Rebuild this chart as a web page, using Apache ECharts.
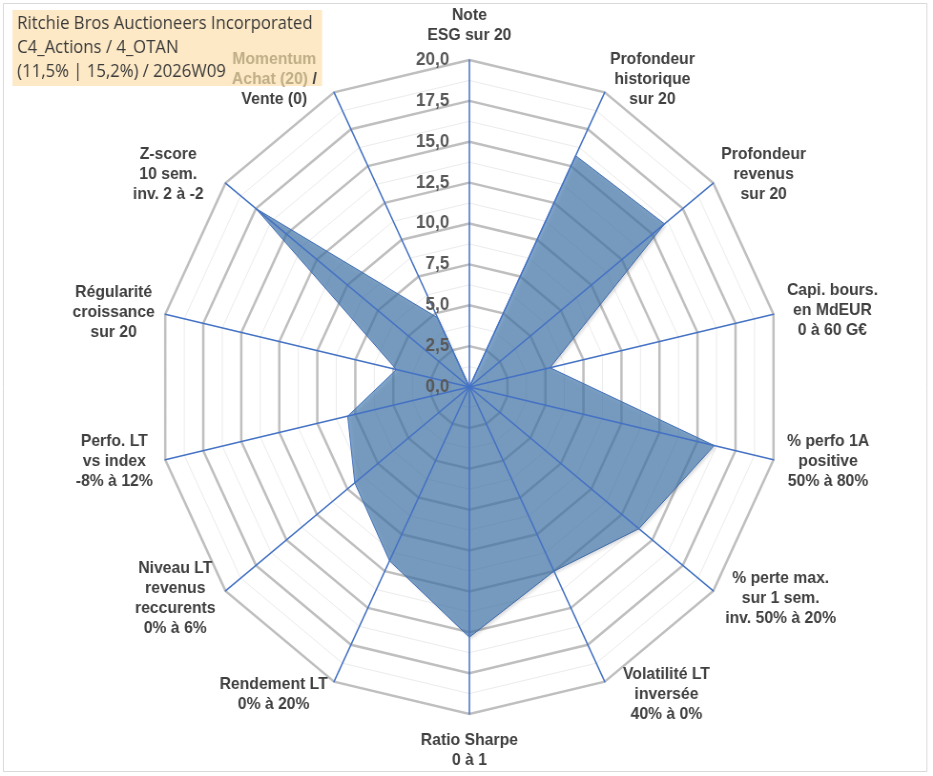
<!DOCTYPE html>
<html>
<head>
<meta charset="utf-8">
<script src="https://cdn.jsdelivr.net/npm/echarts@6/dist/echarts.min.js"></script>
<style>
  html, body { margin: 0; padding: 0; overflow: hidden; background: #fff; }
  /* the source picture is a bit narrower than tall, so the radar is squeezed */
  #chart { width: 978px; height: 776px; transform: scaleX(0.954); transform-origin: 0 0; }
</style>
</head>
<body>
<div id="chart"></div>
<script>
// axes clockwise from the top, as in the sheet
const axisNames = [
  "Note\nESG sur 20",
  "Profondeur\nhistorique\nsur 20",
  "Profondeur\nrevenus\nsur 20",
  "Capi. bours.\nen MdEUR\n0 à 60 G€",
  "% perfo 1A\npositive\n50% à 80%",
  "% perte max.\nsur 1 sem.\ninv. 50% à 20%",
  "Volatilité LT\ninversée\n40% à 0%",
  "Ratio Sharpe\n0 à 1",
  "Rendement LT\n0% à 20%",
  "Niveau LT\nrevenus\nreccurents\n0% à 6%",
  "Perfo. LT\nvs index\n-8% à 12%",
  "Régularité\ncroissance\nsur 20",
  "Z-score\n10 sem.\ninv. 2 à -2",
  "Momentum\nAchat (20) /\nVente (0)"
];
const scores = [0, 15.7, 16.0, 5.3, 16.1, 13.9, 12.5, 15.3, 11.8, 9.4, 8.0, 4.8, 17.5, 4.7];
const tanWords = ["Momentum", "Achat (20)"];
const titleLines = [
  "Ritchie Bros Auctioneers Incorporated",
  "C4_Actions / 4_OTAN",
  "(11,5% | 15,2%) / 2026W09"
];
const scaleMin = 0;
const scaleMax = 20;
const majorSplits = 8;   // 2,5 steps

// nudges for the axis names (screen px, x then y) so they sit like excel's
const nameNudge = [
  [0, -7], [2, -6], [2, -4], [6, -2], [6, 0], [6, 3], [15, 6],
  [0, 8], [-3, 6], [-4, 3], [-5, 0], [-3, 0], [-16, -4], [-14, -6]
];
const squeeze = 0.954;

// echarts lays radar axes out counter-clockwise, so flip everything after the first
function clockwise(arr) {
  return [arr[0]].concat(arr.slice(1).reverse());
}

function nameLabel(name) {
  return name.split("\n").map(function (line) {
    for (const w of tanWords) {
      if (line.indexOf(w) === 0) {
        const rest = line.slice(w.length);
        return "{t|" + w + "}" + (rest ? "{c|" + rest + "}" : "");
      }
    }
    return "{c|" + line + "}";
  }).join("\n");
}

function namePadding(i) {
  const dx = nameNudge[i][0], dy = nameNudge[i][1];
  const vertical = (i === 0 || i === axisNames.length / 2);
  const k = vertical ? 1 : 2;
  const top = dy > 0 ? dy * k : 0;
  const bottom = dy < 0 ? -dy * k : 0;
  const left = dx > 0 ? dx / squeeze : 0;
  const right = dx < 0 ? -dx / squeeze : 0;
  return [top, right, bottom, left];
}

const labelFont = "'Liberation Sans', Arial, sans-serif";
const center = [492, 387];
const radius = 327;

function indicators(withExtras) {
  const order = clockwise(axisNames.map(function (n, i) { return i; }));
  return order.map(function (idx, i) {
    const ind = { name: axisNames[idx], min: scaleMin, max: scaleMax };
    if (withExtras) {
      ind.nameTextStyle = { padding: namePadding(idx) };
      if (i === 0) ind.axisLabel = { show: true };
    }
    return ind;
  });
}

let chart = echarts.init(document.getElementById("chart"));
chart.setOption({
  backgroundColor: "#fff",
  animation: false,
  title: {
    text: titleLines.join("\n"),
    left: 13,
    top: 10,
    z: 0,
    backgroundColor: "#fde9c6",
    padding: [2, 10, 2, 5],
    textStyle: {
      fontFamily: "'Open Sans', sans-serif",
      fontSize: 17.5,
      fontWeight: "normal",
      color: "#3a3a3a",
      lineHeight: 24
    }
  },
  graphic: [{
    type: "rect",
    left: 1,
    top: 1,
    shape: { width: 968, height: 768 },
    style: { fill: null, stroke: "#d9d9d9", lineWidth: 1 },
    silent: true
  }],
  radar: [
    {
      // minor rings
      center: center, radius: radius, startAngle: 90, shape: "polygon",
      indicator: indicators(false),
      splitNumber: majorSplits * 2,
      z: 1,
      axisName: { show: false },
      axisLine: { show: false },
      axisTick: { show: false },
      axisLabel: { show: false },
      splitArea: { show: false },
      splitLine: { lineStyle: { color: "#ececec", width: 1 } }
    },
    {
      // major rings
      center: center, radius: radius, startAngle: 90, shape: "polygon",
      indicator: indicators(false),
      splitNumber: majorSplits,
      z: 1,
      axisName: { show: false },
      axisLine: { show: false },
      axisTick: { show: false },
      axisLabel: { show: false },
      splitArea: { show: false },
      splitLine: { lineStyle: { color: "#bfbfbf", width: 2.5 } }
    },
    {
      // spokes, names and the value scale, drawn over the area
      center: center, radius: radius, startAngle: 90, shape: "polygon",
      indicator: indicators(true),
      splitNumber: majorSplits,
      z: 3,
      nameGap: 8,
      axisName: {
        formatter: nameLabel,
        rich: {
          c: { align: "center", fontFamily: labelFont, fontSize: 16.5, fontWeight: "bold", color: "#404040", lineHeight: 20 },
          t: { align: "center", fontFamily: labelFont, fontSize: 16.5, fontWeight: "bold", color: "#bfae86", lineHeight: 20 }
        }
      },
      axisLine: { lineStyle: { color: "#4472c4", width: 1.5 } },
      axisTick: { show: false },
      axisLabel: {
        show: false,
        margin: 21,
        fontFamily: labelFont,
        fontSize: 18,
        fontWeight: "bold",
        color: "#595959",
        formatter: function (v) { return Number(v).toFixed(1).replace(".", ","); }
      },
      splitArea: { show: false },
      splitLine: { show: false }
    }
  ],
  series: [{
    type: "radar",
    radarIndex: 1,
    symbol: "none",
    lineStyle: { color: "#4472c4", width: 1 },
    areaStyle: {
      color: "rgb(66,119,175)",
      opacity: 0.66,
      shadowColor: "rgba(0,0,0,0.2)",
      shadowBlur: 3,
      shadowOffsetX: 2,
      shadowOffsetY: 2
    },
    data: [{ value: clockwise(scores), name: titleLines[0] }]
  }]
});

window.addEventListener("resize", function () {
  chart.resize();
});
</script>
</body>
</html>
